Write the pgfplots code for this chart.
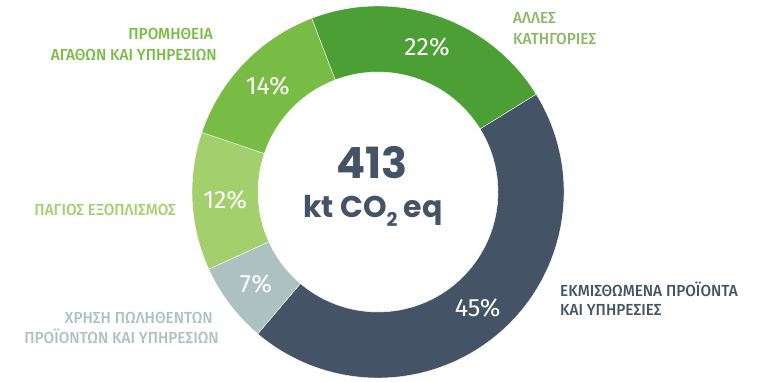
\documentclass[border=0pt]{standalone}
\usepackage{pgfplots}
\pgfplotsset{compat=1.18}
\usepackage{pgfplotstable}
\usepackage{fontspec}
\setmainfont{Fira Sans}[FakeStretch=0.97]
\newfontfamily\labfont{Fira Sans Medium}[FakeStretch=0.96]
\newfontfamily\lightfont{Fira Sans}
\newfontfamily\numfont{Poppins}

\definecolor{seg0}{HTML}{4C9F35}
\definecolor{seg1}{HTML}{445466}
\definecolor{seg2}{HTML}{ADC2C0}
\definecolor{seg3}{HTML}{A3CF6C}
\definecolor{seg4}{HTML}{79BC45}
\definecolor{lab0}{HTML}{8BB863}

% share of each category (%), clockwise from the top
\pgfplotstableread{
pct
22
45
7
12
14
}\donut

\xdef\cum{110.9}
\foreach \i in {0,...,4}{%
  \pgfplotstablegetelem{\i}{pct}\of\donut
  \xdef\pv{\pgfplotsretval}%
  \pgfmathsetmacro\s{\cum}%
  \pgfmathsetmacro\e{\cum-3.6*\pv}%
  \pgfmathsetmacro\m{(\s+\e)/2}%
  \expandafter\xdef\csname s\i\endcsname{\s}%
  \expandafter\xdef\csname e\i\endcsname{\e}%
  \expandafter\xdef\csname m\i\endcsname{\m}%
  \expandafter\xdef\csname p\i\endcsname{\pv}%
  \xdef\cum{\e}%
}

\begin{document}
\begin{tikzpicture}
\begin{axis}[
  x=1pt, y=1pt, xmin=0, xmax=765, ymin=0, ymax=381,
  anchor=south west, at={(0pt,0pt)},
  scale only axis, hide axis, clip=false]
\pgfplotsinvokeforeach{0,...,4}{
  \fill[seg#1, draw=white, line width=0.4pt]
    (axis cs:378,189) ++(\csname s#1\endcsname:186pt)
    arc[start angle=\csname s#1\endcsname, end angle=\csname e#1\endcsname, radius=186pt]
    -- ++(\csname e#1\endcsname+180:66pt)
    arc[start angle=\csname e#1\endcsname, end angle=\csname s#1\endcsname, radius=120pt]
    -- cycle;
  \path (axis cs:378,189) ++(\csname m#1\endcsname:153pt)
    node[white, font=\lightfont\fontsize{25}{25}\selectfont] {\csname p#1\endcsname\%};
}
% centre
\node[anchor=base, text=seg1, font=\numfont\bfseries\fontsize{43}{43}\selectfont] at (axis cs:372,203) {413};
\node[anchor=base, text=seg1, font=\numfont\bfseries\fontsize{30}{30}\selectfont] at (axis cs:373,164)
  {kt CO\raisebox{-0.3em}{\fontsize{19}{19}\selectfont 2} eq};
% category labels
\tikzset{lab/.style={font=\labfont\fontsize{16}{16}\selectfont, inner sep=0pt}}
\node[lab, anchor=base west, text=lab0] at (axis cs:513,357) {ΑΛΛΕΣ};
\node[lab, anchor=base west, text=lab0] at (axis cs:513,336) {ΚΑΤΗΓΟΡΙΕΣ};
\node[lab, anchor=base east, text=seg4] at (axis cs:213,341) {ΠΡΟΜΗΘΕΙΑ};
\node[lab, anchor=base east, text=seg4] at (axis cs:217,320) {ΑΓΑΘΩΝ ΚΑΙ ΥΠΗΡΕΣΙΩΝ};
\node[lab, anchor=base east, text=seg3] at (axis cs:176,166) {ΠΑΓΙΟΣ ΕΞΟΠΛΙΣΜΟΣ};
\node[lab, anchor=base east, text=seg2] at (axis cs:213,58) {ΧΡΗΣΗ ΠΩΛΗΘΕΝΤΩΝ};
\node[lab, anchor=base east, text=seg2] at (axis cs:219,38) {ΠΡΟΪΟΝΤΩΝ ΚΑΙ ΥΠΗΡΕΣΙΩΝ};
\node[lab, anchor=base west, text=seg1] at (axis cs:560,85) {ΕΚΜΙΣΘΩΜΕΝΑ ΠΡΟΪΟΝΤΑ};
\node[lab, anchor=base west, text=seg1] at (axis cs:560,66) {ΚΑΙ ΥΠΗΡΕΣΙΕΣ};
\end{axis}
\pgfresetboundingbox
\path[use as bounding box] (0pt,0pt) rectangle (765pt,381pt);
\end{tikzpicture}
\end{document}
